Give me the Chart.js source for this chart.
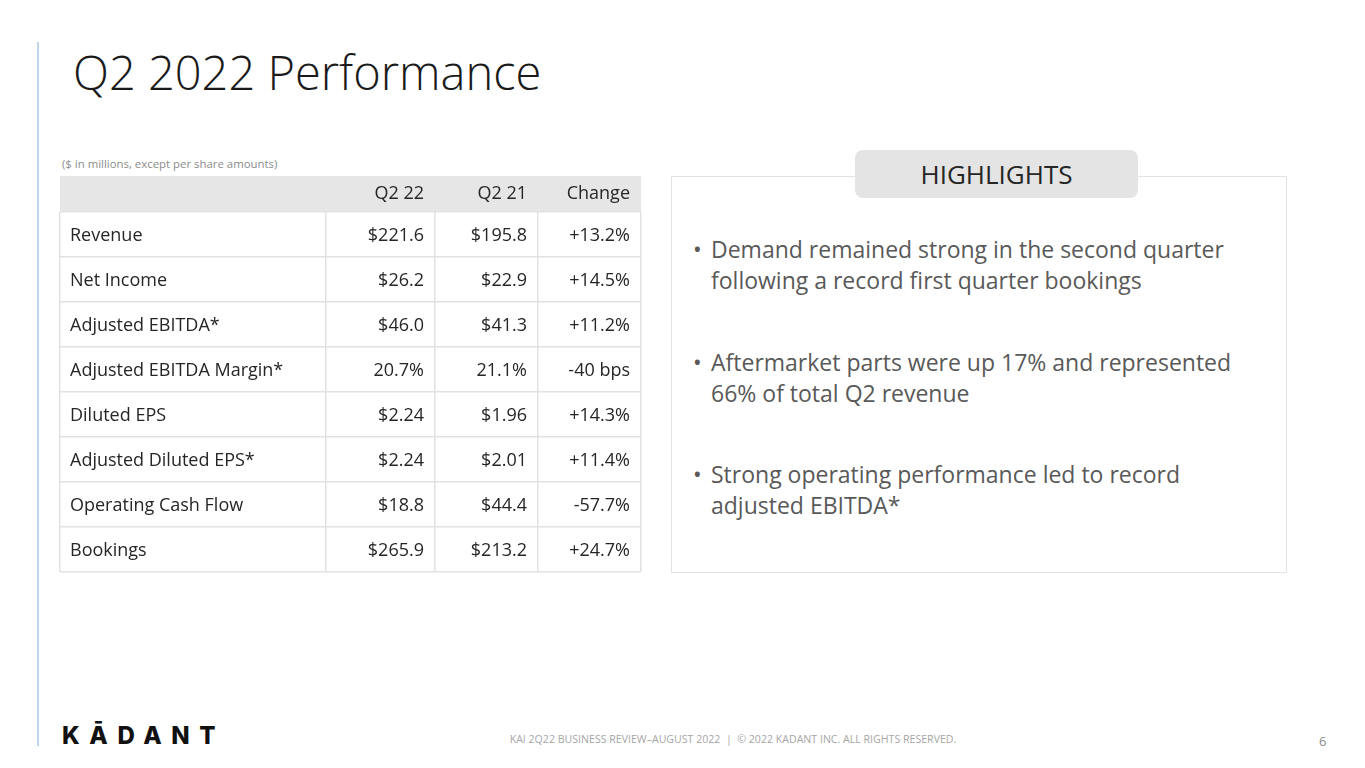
<!DOCTYPE html>
<html>
<head>
<meta charset="utf-8">
<script src="https://cdn.jsdelivr.net/npm/chart.js@4"></script>
<style>
  html, body { margin: 0; padding: 0; background: #fff; }
  body { width: 1365px; height: 768px; position: relative; overflow: hidden; font-family: 'Open Sans', sans-serif; }
  .abs { position: absolute; white-space: nowrap; }
  #rule { left: 37px; top: 42px; width: 2px; height: 704px; background: #c0d6ea; }
  #title { left: 73px; top: 49px; font-size: 47px; line-height: 46px; font-weight: 300; color: #1a1a1a; }
  #note { left: 62px; top: 157px; font-size: 11.4px; line-height: 14px; color: #8c8c8c; }
  #tableWrap { left: 59px; top: 176px; width: 583px; height: 397px; }
  #box { left: 671px; top: 176px; width: 614px; height: 395px; border: 1.5px solid #e3e3e3; }
  #tab { left: 855px; top: 150px; width: 283px; height: 48px; background: #e4e4e4; border-radius: 8px;
         text-align: center; font-size: 26px; line-height: 48px; color: #262626; }
  .bullet { left: 693px; font-size: 23px; line-height: 31px; color: #595959; }
  .bullet span { position: absolute; left: 0; }
  .bullet div { margin-left: 18px; }
  #logo { left: 62px; top: 724px; font-family: Inter, sans-serif; font-weight: 800; font-size: 24px; line-height: 23px; letter-spacing: 9.6px; color: #111; }
  #foot { left: 0; width: 1466px; top: 732px; text-align: center; font-size: 10.6px; line-height: 14px; color: #a6a6a6; }
  #page { left: 1319px; top: 733px; font-size: 13px; line-height: 16px; color: #8c8c8c; }
</style>
</head>
<body>
<div id="rule" class="abs"></div>
<div id="title" class="abs">Q2 2022 Performance</div>
<div id="note" class="abs">($ in millions, except per share amounts)</div>
<div id="tableWrap" class="abs"><canvas id="table"></canvas></div>

<div id="box" class="abs"></div>
<div id="tab" class="abs">HIGHLIGHTS</div>
<div class="abs bullet" style="top:234px"><span>•</span><div>Demand remained strong in the second quarter<br>following a record first quarter bookings</div></div>
<div class="abs bullet" style="top:347px"><span>•</span><div>Aftermarket parts were up 17% and represented<br>66% of total Q2 revenue</div></div>
<div class="abs bullet" style="top:459px"><span>•</span><div>Strong operating performance led to record<br>adjusted EBITDA*</div></div>

<div id="logo" class="abs">KĀDANT</div>
<div id="foot" class="abs">KAI 2Q22 BUSINESS REVIEW–AUGUST 2022 &nbsp;|&nbsp; © 2022 KADANT INC. ALL RIGHTS RESERVED.</div>
<div id="page" class="abs">6</div>

<script>
// table contents
const metrics = ['Revenue', 'Net Income', 'Adjusted EBITDA*', 'Adjusted EBITDA Margin*', 'Diluted EPS', 'Adjusted Diluted EPS*', 'Operating Cash Flow', 'Bookings']
const columns = ['Q2 22', 'Q2 21', 'Change']
const q222 = ['$221.6', '$26.2', '$46.0', '20.7%', '$2.24', '$2.24', '$18.8', '$265.9']
const q221 = ['$195.8', '$22.9', '$41.3', '21.1%', '$1.96', '$2.01', '$44.4', '$213.2']
const change = ['+13.2%', '+14.5%', '+11.2%', '-40 bps', '+14.3%', '+11.4%', '-57.7%', '+24.7%']

// column borders in x-scale units (table width = 581)
const colEdges = [0, 266, 375, 478, 581]
const headerHeight = 36
const cellFont = '18px "Open Sans", sans-serif'
const textColor = '#262626'
const lineColor = '#e2e2e2'

const tableText = {
    id: 'tableText',
    beforeDraw(chart) {
        const { ctx, chartArea } = chart
        ctx.save()
        ctx.fillStyle = '#e7e6e6'
        ctx.fillRect(chartArea.left, chartArea.top - headerHeight, chartArea.right - chartArea.left, headerHeight)
        ctx.restore()
    },
    afterDraw(chart) {
        const { ctx, chartArea } = chart
        const x = chart.scales.x
        const y = chart.scales.y
        const cols = [q222, q221, change]
        ctx.save()
        ctx.font = cellFont
        ctx.fillStyle = textColor
        ctx.textBaseline = 'middle'
        ctx.textAlign = 'left'
        metrics.forEach((m, i) => {
            ctx.fillText(m, x.getPixelForValue(colEdges[0]) + 10, y.getPixelForValue(i) + 1)
        })
        ctx.textAlign = 'right'
        columns.forEach((name, c) => {
            ctx.fillText(name, x.getPixelForValue(colEdges[c + 2]) - 11, chartArea.top - headerHeight / 2)
        })
        metrics.forEach((m, i) => {
            cols.forEach((col, c) => {
                ctx.fillText(col[i], x.getPixelForValue(colEdges[c + 2]) - 11, y.getPixelForValue(i) + 1)
            })
        })
        ctx.restore()
    }
}

new Chart('table', {
    type: 'bar',
    data: { labels: metrics, datasets: [] },
    options: {
        indexAxis: 'y',
        responsive: true,
        maintainAspectRatio: false,
        animation: false,
        layout: { padding: { top: headerHeight, bottom: 1, left: 1, right: 1 } },
        plugins: { legend: { display: false }, tooltip: { enabled: false } },
        scales: {
            x: {
                type: 'linear',
                min: 0,
                max: 581,
                offset: false,
                afterBuildTicks: scale => { scale.ticks = colEdges.map(v => ({ value: v })) },
                ticks: { display: false },
                grid: { offset: false, color: lineColor, lineWidth: 1.5, drawTicks: false },
                border: { display: false }
            },
            y: {
                type: 'category',
                offset: true,
                grid: { offset: true, color: lineColor, lineWidth: 1.5, drawTicks: false },
                border: { display: false },
                ticks: { display: false }
            }
        }
    },
    plugins: [tableText]
})
</script>
</body>
</html>
